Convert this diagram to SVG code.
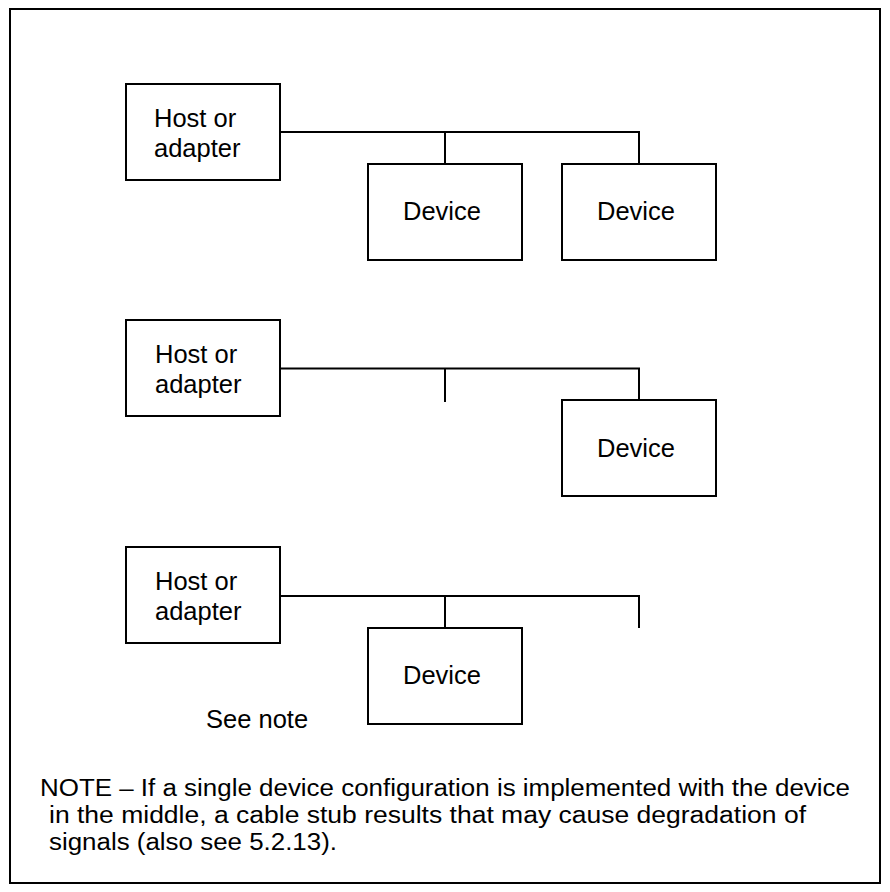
<svg xmlns="http://www.w3.org/2000/svg" width="890" height="892" viewBox="0 0 890 892">
<style>
.box{fill:#fff;stroke:#000;stroke-width:2}
.ln{fill:none;stroke:#000;stroke-width:2}
.t{font-family:"Liberation Sans",Arial,sans-serif;font-size:25.5px;fill:#000}
.n{font-family:"Liberation Sans",Arial,sans-serif;font-size:23px;fill:#000}
</style>
<rect x="0" y="0" width="890" height="892" fill="#fff"/>
<rect id="frame" x="10" y="9" width="870" height="874" fill="none" stroke="#000" stroke-width="2"/>
<g id="connectors">
<path class="ln" d="M280 132H639V164M445 132V164"/>
<path class="ln" d="M280 368.5H639V400M445 368.5V402"/>
<path class="ln" d="M280 596H639V628M445 596V628"/>
</g>
<g id="host1"><rect class="box" x="126" y="84" width="154" height="96"/><text class="t" x="154" y="127">Host or</text><text class="t" x="154" y="157">adapter</text></g>
<g id="dev1a"><rect class="box" x="368" y="164" width="154" height="96"/><text class="t" x="403" y="220">Device</text></g>
<g id="dev1b"><rect class="box" x="562" y="164" width="154" height="96"/><text class="t" x="597" y="220">Device</text></g>
<g id="host2"><rect class="box" x="126" y="320" width="154" height="96"/><text class="t" x="155" y="363">Host or</text><text class="t" x="155" y="393">adapter</text></g>
<g id="dev2"><rect class="box" x="562" y="400" width="154" height="96"/><text class="t" x="597" y="457">Device</text></g>
<g id="host3"><rect class="box" x="126" y="547" width="154" height="96"/><text class="t" x="155" y="590">Host or</text><text class="t" x="155" y="620">adapter</text></g>
<g id="dev3"><rect class="box" x="368" y="628" width="154" height="96"/><text class="t" x="403" y="684">Device</text></g>
<text id="seenote" class="t" x="206" y="728">See note</text>
<g id="note">
<text class="n" x="40" y="796" textLength="810" lengthAdjust="spacingAndGlyphs">NOTE – If a single device configuration is implemented with the device</text>
<text class="n" x="49" y="823" textLength="757" lengthAdjust="spacingAndGlyphs">in the middle, a cable stub results that may cause degradation of</text>
<text class="n" x="49" y="850" textLength="288" lengthAdjust="spacingAndGlyphs">signals (also see 5.2.13).</text>
</g>
</svg>
